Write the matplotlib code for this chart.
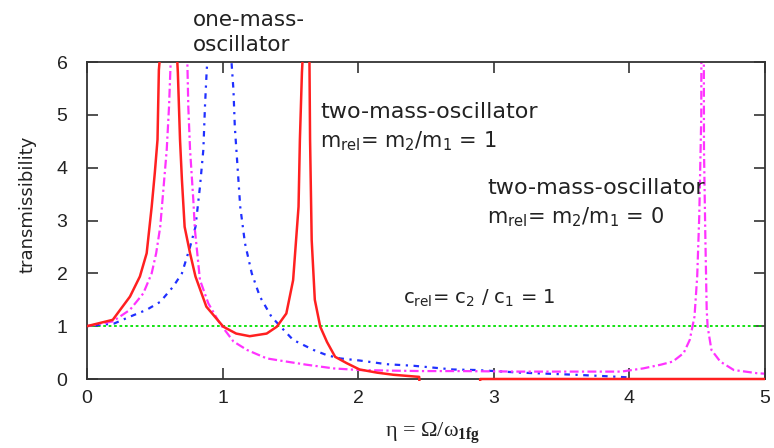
import numpy as np
import matplotlib
matplotlib.use("Agg")
import matplotlib.pyplot as plt
from matplotlib.transforms import Bbox, TransformedBbox

plt.rcParams["mathtext.default"] = "regular"
plt.rcParams["mathtext.fontset"] = "custom"
plt.rcParams["mathtext.bf"] = "Liberation Serif:bold"

# --- dados ---
# dois-massas, m_rel = 1 (vermelho)
eta_red = [0.0, 0.19, 0.317, 0.39, 0.44, 0.477, 0.50, 0.52, 0.53, 0.545, 0.60,
           0.66, 0.67, 0.686, 0.70, 0.72, 0.76, 0.80, 0.88, 1.005, 1.10, 1.20,
           1.325, 1.40, 1.47, 1.52, 1.56, 1.57, 1.585, 1.595, 1.62, 1.64, 1.645,
           1.657, 1.68, 1.72, 1.77, 1.83, 1.915, 2.01, 2.14, 2.26, 2.45, 2.455,
           2.895, 2.9, 5.0]
tr_red = [1.0, 1.12, 1.56, 1.94, 2.38, 3.26, 3.9, 4.53, 5.85, 6.3, 12.0,
          6.3, 5.8, 4.53, 3.77, 2.88, 2.38, 1.94, 1.37, 0.99, 0.86, 0.81,
          0.86, 0.99, 1.24, 1.87, 3.26, 4.53, 5.8, 6.3, 14.0, 6.2, 4.53,
          2.63, 1.5, 0.99, 0.70, 0.42, 0.30, 0.18, 0.12, 0.08, 0.04, -0.3,
          -0.3, 0.0, 0.0]

# dois-massas, m_rel = 0 (magenta)
eta_mag = [0.0, 0.19, 0.317, 0.415, 0.477, 0.51, 0.54, 0.563, 0.588, 0.605,
           0.617, 0.67, 0.74, 0.747, 0.76, 0.784, 0.796, 0.833, 0.895, 0.98,
           1.08, 1.18, 1.325, 1.47, 1.62, 1.82, 2.01, 2.21, 2.46, 2.75, 3.2,
           3.66, 3.94, 4.10, 4.23, 4.32, 4.40, 4.445, 4.48, 4.50, 4.515, 4.53,
           4.54, 4.55, 4.56, 4.57, 4.577, 4.605, 4.67, 4.77, 4.94, 5.0]
tr_mag = [1.0, 1.09, 1.31, 1.62, 2.0, 2.38, 2.88, 3.58, 4.34, 5.16,
          6.0, 9.0, 6.0, 5.16, 4.34, 3.39, 2.82, 1.875, 1.43, 1.05,
          0.71, 0.55, 0.39, 0.33, 0.27, 0.20, 0.17, 0.16, 0.15, 0.15, 0.14,
          0.14, 0.14, 0.20, 0.27, 0.33, 0.49, 0.74, 1.18, 1.94, 3.07, 4.97,
          20.0, 4.34, 2.7, 1.31, 0.99, 0.55, 0.33, 0.17, 0.11, 0.10]

# oscilador de uma massa (azul)
eta_blue = [0.0, 0.2, 0.317, 0.44, 0.54, 0.636, 0.70, 0.76, 0.80, 0.833,
            0.858, 0.87, 0.883, 0.97, 1.067, 1.08, 1.09, 1.11, 1.13, 1.165,
            1.215, 1.275, 1.36, 1.45, 1.52, 1.67, 1.77, 1.866, 2.01, 2.21,
            2.41, 2.70, 2.87, 3.2, 3.6, 3.85, 4.0]
tr_blue = [1.0, 1.05, 1.18, 1.31, 1.46, 1.75, 2.0, 2.5, 2.88, 3.64,
           4.34, 5.16, 5.85, 9.0, 5.95, 5.47, 4.78, 4.02, 3.26, 2.57,
           2.0, 1.56, 1.18, 0.93, 0.74, 0.55, 0.45, 0.39, 0.35, 0.28,
           0.25, 0.18, 0.17, 0.12, 0.08, 0.05, 0.03]

# referência transmissibilidade = 1 (verde)
eta_ref = [0.0, 5.0]
tr_ref = [1.0, 1.0]

x_ticks = [0, 1, 2, 3, 4, 5]
y_ticks = [0, 1, 2, 3, 4, 5, 6]

# --- figura ---
fig = plt.figure(figsize=(7.74, 4.48), dpi=100)
ax = fig.add_axes([87 / 774, 1 - 379 / 448, (765 - 87) / 774, (379 - 62) / 448])

ax.plot(eta_ref, tr_ref, color="#00e000", lw=1.3, linestyle=(0, (1.5, 1.5)))
ax.plot(eta_blue, tr_blue, color="#2030ff", lw=1.6, linestyle=(0, (1, 2.5, 2.5, 2.5)))
ax.plot(eta_mag, tr_mag, color="#ff33ff", lw=1.6, linestyle=(0, (4, 1.5, 1, 1.5)))
linha_red, = ax.plot(eta_red, tr_red, color="#ff2020", lw=1.8, zorder=3)

# deixa a linha vermelha aparecer um pouco sobre o eixo x (como no original)
linha_red.set_clip_box(TransformedBbox(Bbox([[0, -0.006], [1, 1]]), ax.transAxes))

ax.set_xlim(0, 5)
ax.set_ylim(0, 6)
ax.set_xticks(x_ticks)
ax.set_yticks(y_ticks)

ax.tick_params(direction="in", length=8, width=1.2, color="#333333",
               top=True, right=True, labelsize=14, labelcolor="#222222",
               labelfontfamily="Liberation Sans")
ax.tick_params(axis="x", pad=8)
ax.tick_params(axis="y", pad=14)
for s in ax.spines.values():
    s.set_linewidth(1.3)
    s.set_color("#333333")

# rótulos dos eixos
fig.text(28 / 774, 1 - 204 / 448, "transmissibility", rotation=90,
         ha="center", va="center", fontsize=13, color="#222222")
fig.text(433 / 774, 1 - 433 / 448, r"$\eta$ = $\Omega$/$\omega_{\mathbf{1fg}}$",
         ha="center", va="center", fontsize=16, family="Liberation Serif",
         color="#222222")

# anotações
txt = dict(color="#222222", ha="left", va="center", clip_on=False)
ax.text(0.78, 6.8, "one-mass-", fontsize=15.5, **txt)
ax.text(0.78, 6.33, "oscillator", fontsize=15.5, **txt)
ax.text(1.72, 5.06, "two-mass-oscillator", fontsize=16, **txt)
ax.text(1.72, 4.5, r"m$_{rel}$= m$_2$/m$_1$ = 1", fontsize=15, **txt)
ax.text(2.95, 3.62, "two-mass-oscillator", fontsize=16, **txt)
ax.text(2.95, 3.07, r"m$_{rel}$= m$_2$/m$_1$ = 0", fontsize=15, **txt)
ax.text(2.33, 1.52, r"c$_{rel}$= c$_2$ / c$_1$ = 1", fontsize=14, **txt)

fig.savefig("out.png", dpi=100)
